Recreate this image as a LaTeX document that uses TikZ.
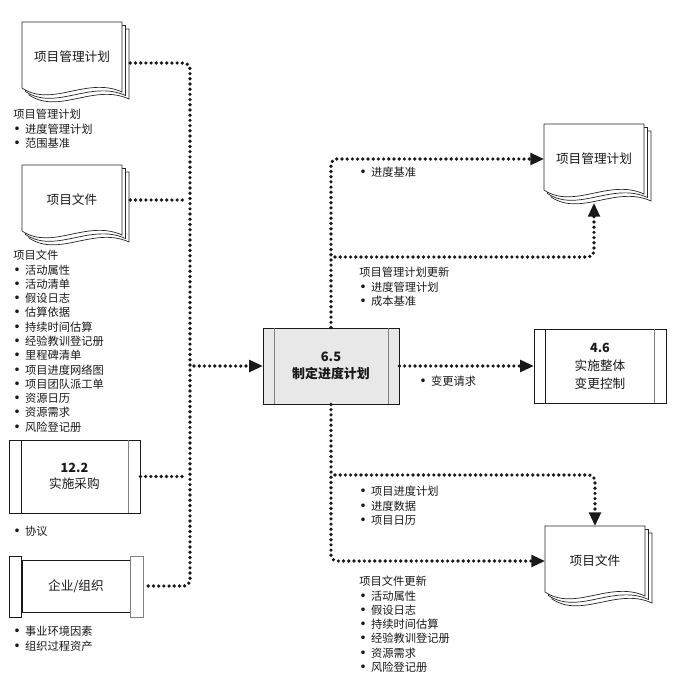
\documentclass[tikz,border=0pt]{standalone}
\usepackage{fontspec}
\setmainfont{Noto Sans CJK SC}
\newfontfamily\symfont{DejaVu Sans}
\usetikzlibrary{arrows.meta}

\newcommand\bl{\makebox[8.5pt][l]{\symfont\fontsize{9}{9}\selectfont •}}

\begin{document}
\begin{tikzpicture}[
    x=0.025cm, y=-0.025cm,
    every node/.style={font=\fontsize{9}{12}\selectfont, text=black!90},
    sheet/.style={draw=black!85, fill=white, line width=0.5pt},
    doctext/.style={minimum width=2.5cm, minimum height=1.75cm, inner sep=0pt},
    procbox/.style={
        rectangle,
        draw=black!90,
        line width=0.6pt,
        align=center,
        inner sep=0pt
    },
    notes/.style={anchor=north west, align=left, inner sep=0pt, font=\fontsize{8}{10.16}\selectfont},
    flow/.style={line width=2.6pt, dash pattern=on 0pt off 3.7pt, line cap=round, rounded corners=4pt, black!90},
    arrowin/.style={-{Triangle[length=9.5pt,width=9pt,line width=0pt]}}
]
\useasboundingbox (0,0) rectangle (689,700);

% document stacks
\foreach \px/\py/\nm/\txt in {22/22/pmpin/项目管理计划, 22/165/docsin/项目文件, 544/124/pmpout/项目管理计划, 545/526/pdout/项目文件}{
  \begin{scope}[shift={(\px,\py)}]
    \foreach \dd in {7,3.5}
      \draw[sheet, shift={(\dd,\dd)}] (0,0) -- (100,0) -- (100,70) .. controls (65,54) and (30,86) .. (0,66) -- cycle;
    \draw[sheet] (0,0) -- (100,0) -- (100,70) .. controls (65,54) and (30,86) .. (0,66) -- cycle;
    \node[doctext] (\nm) at (50,35) {\txt};
  \end{scope}
}

% process boxes
\node[procbox, fill=gray!18, minimum width=3.4cm, minimum height=1.9cm, font=\bfseries\fontsize{9.2}{12}\selectfont] (sched) at (331,366) {6.5\\制定进度计划};
\node[procbox, minimum width=3.3cm, minimum height=1.85cm, font=\fontsize{9}{12.7}\selectfont] (cic) at (600,366) {\textbf{4.6}\\实施整体\\变更控制};
\node[procbox, minimum width=3.275cm, minimum height=1.825cm, font=\fontsize{9}{11}\selectfont] (proc) at (74.5,476.5) {\textbf{12.2}\\实施采购};
\node[procbox, minimum width=2.7cm, minimum height=1.3cm] (eef) at (76,586) {企业/组织};

\draw[gray] ([xshift=3mm]sched.north west) -- ([xshift=3mm]sched.south west);
\draw[gray] ([xshift=-2.75mm]sched.north east) -- ([xshift=-2.75mm]sched.south east);
\draw[black!90] ([xshift=3mm]cic.north west) -- ([xshift=3mm]cic.south west);
\draw[gray] ([xshift=-3mm]cic.north east) -- ([xshift=-3mm]cic.south east);
\draw[black!90] ([xshift=3.25mm]proc.north west) -- ([xshift=3.25mm]proc.south west);
\draw[gray] ([xshift=-3mm]proc.north east) -- ([xshift=-3mm]proc.south east);
\draw[black!90] ([yshift=0.75mm]eef.north west) rectangle ([xshift=-3mm,yshift=-1.25mm]eef.south west);
\draw[gray] ([yshift=0.75mm]eef.north east) rectangle ([xshift=3.25mm,yshift=-1.25mm]eef.south east);

% inputs
\coordinate (jin) at (190,366);
\coordinate (jdocs) at (187,200);
\coordinate (jproc) at (187,476.5);
\draw[flow] ([xshift=2mm,yshift=-1.5mm]pmpin.east) -| (jin) |- ([xshift=3.25mm]eef.east);
\draw[flow] ([xshift=2mm]docsin.east) -- (jdocs);
\draw[flow] (proc.east) -- (jproc);
\draw[flow, arrowin] ([xshift=1mm]jin) -- (sched.west);

% outputs
\coordinate (jupd) at (335,257);
\coordinate (jdn) at (335,475);
\draw[flow, arrowin] (sched.north) |- (pmpout.west);
\draw[flow, arrowin] (jupd) -| ([yshift=-2.25mm]pmpout.south);
\draw[flow, arrowin] (sched.east) -- (cic.west);
\draw[flow, arrowin] (sched.south) |- (pdout.west);
\draw[flow, arrowin] (jdn) -| (pdout.north);

% labels
\node[notes] (n1) at (13,109) {项目管理计划\\\bl 进度管理计划\\\bl 范围基准};
\node[notes] (n2) at (13,250) {项目文件\\\bl 活动属性\\\bl 活动清单\\\bl 假设日志\\\bl 估算依据\\\bl 持续时间估算\\\bl 经验教训登记册\\\bl 里程碑清单\\\bl 项目进度网络图\\\bl 项目团队派工单\\\bl 资源日历\\\bl 资源需求\\\bl 风险登记册};
\node[notes] (n3) at (13,526) {\bl 协议};
\node[notes] (n4) at (13,626) {\bl 事业环境因素\\\bl 组织过程资产};
\node[notes] (n5) at (359,167) {\bl 进度基准};
\node[notes] (n6) at (359,267) {项目管理计划更新\\\bl 进度管理计划\\\bl 成本基准};
\node[notes] (n7) at (419,376) {\bl 变更请求};
\node[notes] (n8) at (359,486) {\bl 项目进度计划\\\bl 进度数据\\\bl 项目日历};
\node[notes] (n9) at (359,576) {项目文件更新\\\bl 活动属性\\\bl 假设日志\\\bl 持续时间估算\\\bl 经验教训登记册\\\bl 资源需求\\\bl 风险登记册};

\end{tikzpicture}
\end{document}
